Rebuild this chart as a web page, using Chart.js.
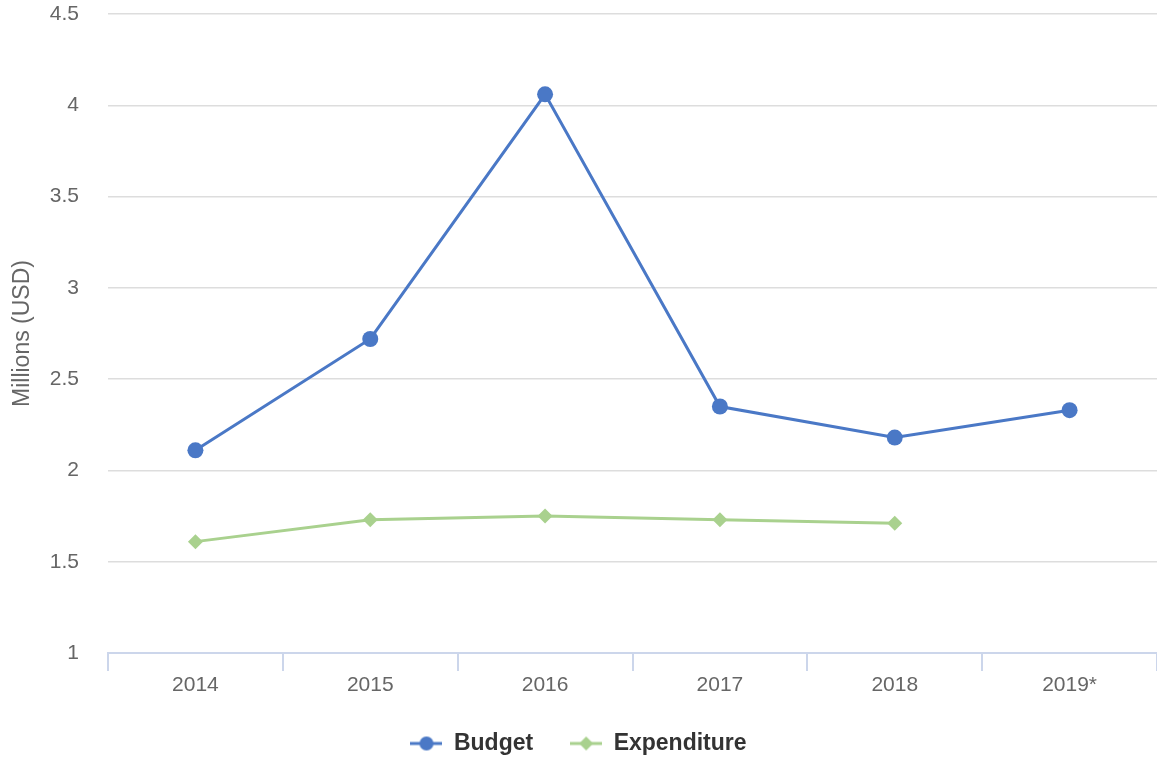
<!DOCTYPE html>
<html lang="en">
<head>
    <meta charset="UTF-8">
    <title>Budget and Expenditure</title>
    <script src="https://cdn.jsdelivr.net/npm/chart.js"></script>
    <style>
        html, body { margin: 0; padding: 0; background: #fff; overflow: hidden; }
        .chart-box { position: relative; width: 1157px; height: 765px; }
    </style>
</head>
<body>
    <div class="chart-box">
        <canvas id="budgetChart"></canvas>
    </div>

    <script>
        const years = ['2014', '2015', '2016', '2017', '2018', '2019*'];
        const budget = [2.11, 2.72, 4.06, 2.35, 2.18, 2.33];
        const expenditure = [1.61, 1.73, 1.75, 1.73, 1.71];

        const FONT = '"Liberation Sans", Arial, sans-serif';
        const BLUE = '#4a78c6';
        const GREEN = '#a9d18e';

        // little line + marker pictures for the legend
        function legendMarker(color, shape) {
            const c = document.createElement('canvas');
            c.width = 32;
            c.height = 16;
            const ctx = c.getContext('2d');
            ctx.strokeStyle = color;
            ctx.fillStyle = color;
            ctx.lineWidth = 3;
            ctx.beginPath();
            ctx.moveTo(0, 8);
            ctx.lineTo(32, 8);
            ctx.stroke();
            ctx.beginPath();
            if (shape === 'circle') {
                ctx.arc(16, 8, 7, 0, Math.PI * 2);
            } else {
                ctx.moveTo(16, 1);
                ctx.lineTo(23, 8);
                ctx.lineTo(16, 15);
                ctx.lineTo(9, 8);
                ctx.closePath();
            }
            ctx.fill();
            return c;
        }
        const markers = [legendMarker(BLUE, 'circle'), legendMarker(GREEN, 'diamond')];

        const ctx = document.getElementById('budgetChart').getContext('2d');
        new Chart(ctx, {
            type: 'line',
            data: {
                labels: years,
                datasets: [{
                    label: 'Budget',
                    data: budget,
                    borderColor: BLUE,
                    backgroundColor: BLUE,
                    borderWidth: 3,
                    pointStyle: 'circle',
                    pointRadius: 8,
                    pointBorderWidth: 0,
                    tension: 0
                }, {
                    label: 'Expenditure',
                    data: expenditure,
                    borderColor: GREEN,
                    backgroundColor: GREEN,
                    borderWidth: 3,
                    pointStyle: 'rectRot',
                    pointRadius: 7.5,
                    pointBorderWidth: 0,
                    tension: 0
                }]
            },
            options: {
                responsive: true,
                maintainAspectRatio: false,
                animation: false,
                layout: { autoPadding: false, padding: { top: 2, right: 0, left: 0, bottom: 0 } },
                plugins: {
                    tooltip: { enabled: false },
                    legend: {
                        position: 'bottom',
                        labels: {
                            usePointStyle: true,
                            pointStyleWidth: 32,
                            padding: 37,
                            color: '#333333',
                            font: { family: FONT, size: 23, weight: 'bold' },
                            generateLabels(chart) {
                                const items = Chart.defaults.plugins.legend.labels.generateLabels(chart);
                                items.forEach((item, i) => { item.pointStyle = markers[i]; });
                                return items;
                            }
                        }
                    }
                },
                scales: {
                    x: {
                        offset: true,
                        grid: {
                            offset: true,
                            drawOnChartArea: false,
                            drawTicks: true,
                            tickLength: 18,
                            color: '#ccd6eb',
                            lineWidth: 2
                        },
                        border: { display: true, color: '#ccd6eb', width: 2 },
                        ticks: {
                            color: '#666666',
                            padding: 2,
                            font: { family: FONT, size: 21 }
                        },
                        afterFit(scale) {
                            scale.height = 42;
                            scale.paddingLeft = 0;
                            scale.paddingRight = 0;
                        }
                    },
                    y: {
                        min: 1,
                        max: 4.5,
                        ticks: {
                            stepSize: 0.5,
                            color: '#666666',
                            padding: 29,
                            font: { family: FONT, size: 21 },
                            callback: (v) => String(v)
                        },
                        grid: { color: '#dddddd', lineWidth: 1.5, drawTicks: false },
                        border: { display: false },
                        title: {
                            display: true,
                            text: 'Millions (USD)',
                            color: '#666666',
                            padding: { top: 9, bottom: 0 },
                            font: { family: FONT, size: 23 }
                        },
                        afterFit(scale) {
                            scale.width = 108;
                            scale.paddingTop = 14;
                            scale.paddingBottom = 12;
                        }
                    }
                }
            }
        });
    </script>
</body>
</html>
